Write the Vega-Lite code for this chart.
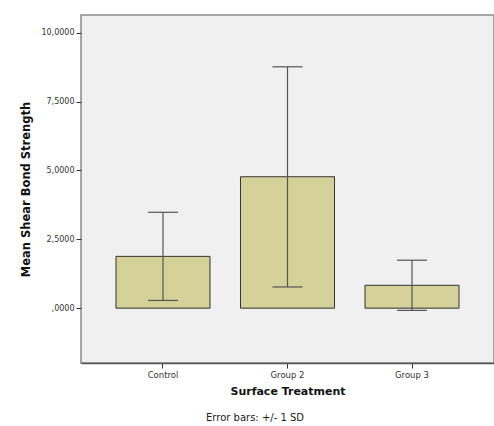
{
  "$schema": "https://vega.github.io/schema/vega-lite/v6.json",
  "autosize": "none",
  "width": 413,
  "height": 348,
  "padding": {"left": 81, "top": 15, "right": 0, "bottom": 63},
  "background": "white",
  "config": {
    "view": {"fill": "#f0f0f0", "stroke": "#8a8a8a", "strokeWidth": 1.5},
    "font": "DejaVu Sans"
  },
  "title": {
    "text": "Error bars: +/- 1 SD",
    "orient": "bottom",
    "anchor": "start",
    "frame": "group",
    "dx": 125,
    "fontSize": 10,
    "fontWeight": "normal",
    "color": "#222222",
    "offset": 16,
    "font": "DejaVu Sans"
  },
  "data": {
    "values": [
      {"group": "Control", "mean": 1.88, "lo": 0.28, "hi": 3.48},
      {"group": "Group 2", "mean": 4.77, "lo": 0.77, "hi": 8.76},
      {"group": "Group 3", "mean": 0.83, "lo": -0.08, "hi": 1.74}
    ]
  },
  "encoding": {
    "x": {
      "field": "group",
      "type": "nominal",
      "sort": null,
      "scale": {"paddingInner": 0.245, "paddingOuter": 0.281},
      "axis": {
        "title": "Surface Treatment",
        "titleFontSize": 11,
        "titleFontWeight": "bold",
        "titleColor": "#111111",
        "titlePadding": 7,
        "labelAngle": 0,
        "labelFontSize": 8.5,
        "labelColor": "#333333",
        "labelPadding": 2,
        "tickSize": 5,
        "tickColor": "#333333",
        "domainColor": "#555555",
        "domainWidth": 1.5
      }
    }
  },
  "layer": [
    {
      "mark": {"type": "bar", "fill": "#d4d199", "stroke": "#333333", "strokeWidth": 1},
      "encoding": {
        "y": {
          "field": "mean",
          "type": "quantitative",
          "scale": {"domain": [-1.99, 10.64], "nice": false, "zero": false},
          "axis": {
            "title": "Mean Shear Bond Strength",
            "titleFontSize": 11.5,
            "titleFontWeight": "bold",
            "titleColor": "#111111",
            "titlePadding": 9,
            "values": [0, 2.5, 5, 7.5, 10],
            "labelExpr": "datum.value == 0 ? ',0000' : replace(format(datum.value, '.4f'), '.', ',')",
            "labelFontSize": 8,
            "labelColor": "#333333",
            "labelPadding": 2,
            "tickSize": 5,
            "tickColor": "#333333",
            "domain": false,
            "grid": false
          }
        },
        "y2": {"datum": 0}
      }
    },
    {
      "mark": {"type": "rule", "color": "#555555", "strokeWidth": 1.2},
      "encoding": {
        "y": {"field": "lo", "type": "quantitative"},
        "y2": {"field": "hi"}
      }
    },
    {
      "mark": {"type": "tick", "color": "#555555", "size": 30, "thickness": 1.2, "opacity": 1},
      "encoding": {"y": {"field": "hi", "type": "quantitative"}}
    },
    {
      "mark": {"type": "tick", "color": "#555555", "size": 30, "thickness": 1.2, "opacity": 1},
      "encoding": {"y": {"field": "lo", "type": "quantitative"}}
    }
  ]
}
